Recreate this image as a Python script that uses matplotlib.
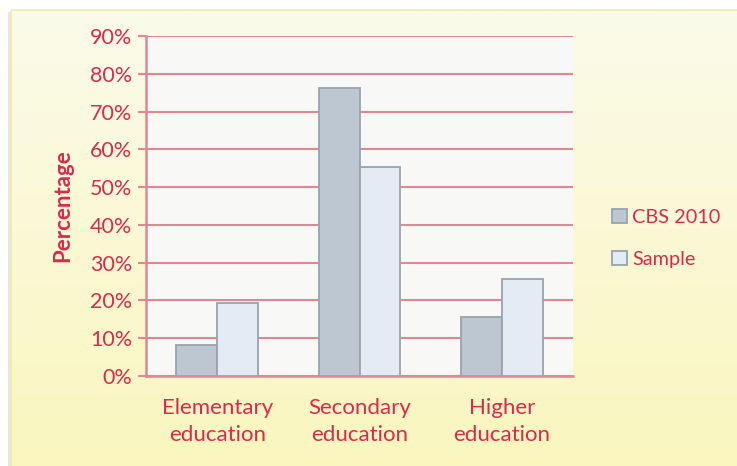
import numpy as np
import matplotlib.pyplot as plt
from matplotlib.patches import Rectangle

# data
categories = ["Elementary\neducation", "Secondary\neducation", "Higher\neducation"]
cbs_2010 = [8.2, 76.2, 15.7]
sample = [19.2, 55.2, 25.7]
series_names = ["CBS 2010", "Sample"]
y_ticks = list(range(0, 91, 10))

red = "#D82B4E"
grid_col = "#E08794"
plt.rcParams['font.family'] = ['Lato', 'DejaVu Sans']

fig = plt.figure(figsize=(7.37, 4.66), dpi=100)
fig.patch.set_facecolor("white")

# background panel with yellow gradient
bg = fig.add_axes([0, 0, 1, 1])
bg.set_xlim(0, 737)
bg.set_ylim(466, 0)
bg.axis("off")
grad = np.linspace(0, 1, 256).reshape(-1, 1)
top = np.array([251, 251, 234]) / 255
bot = np.array([250, 246, 190]) / 255
img = top + (bot - top) * grad[:, :, None]
bg.add_patch(Rectangle((8, 12), 740, 470, facecolor="#D8D8D0", edgecolor="none", alpha=0.6))
bg.imshow(img, extent=[11, 740, 470, 10], aspect="auto", zorder=2)
bg.add_patch(Rectangle((11, 10), 740, 470, facecolor="none", edgecolor="#F3E9A8", lw=1.2, zorder=3))

ax = fig.add_axes([146 / 737, 90 / 466, 427 / 737, 340 / 466])
ax.set_facecolor("#F8F9F7")

x = np.arange(len(categories))
w = 0.288
ax.bar(x - w / 2, cbs_2010, w, color="#BDC7D1", edgecolor="#98A3AD", lw=1.3,
       label=series_names[0], zorder=3)
ax.bar(x + w / 2, sample, w, color="#E3ECF5", edgecolor="#98A3AD", lw=1.3,
       label=series_names[1], zorder=3)

ax.set_xlim(-0.5, 2.5)
ax.set_ylim(0, 90)
ax.set_yticks(y_ticks)
ax.set_yticklabels([f"{t}%" for t in y_ticks])
ax.grid(axis="y", color=grid_col, lw=1.5, zorder=0)
ax.set_axisbelow(True)

for s in ["top", "right"]:
    ax.spines[s].set_visible(False)
for s in ["left", "bottom"]:
    ax.spines[s].set_color(grid_col)
    ax.spines[s].set_linewidth(1.8)

ax.tick_params(axis="y", colors=grid_col, labelcolor=red, labelsize=15.5,
               length=6, width=1.5, pad=4)
ax.set_xticks(x)
ax.set_xticklabels(categories, linespacing=1.42)
ax.tick_params(axis="x", length=0, labelcolor=red, labelsize=16, pad=16)

ax.set_ylabel("Percentage", color=red, fontsize=16, fontweight="bold", labelpad=12)

leg = ax.legend(loc="center left", bbox_to_anchor=(1.05, 0.405), frameon=False,
                fontsize=14.3, handlelength=0.72, handleheight=0.72,
                handletextpad=0.3, labelspacing=1.25)
for t in leg.get_texts():
    t.set_color(red)

fig.savefig("out.png", dpi=100, facecolor=fig.get_facecolor())
